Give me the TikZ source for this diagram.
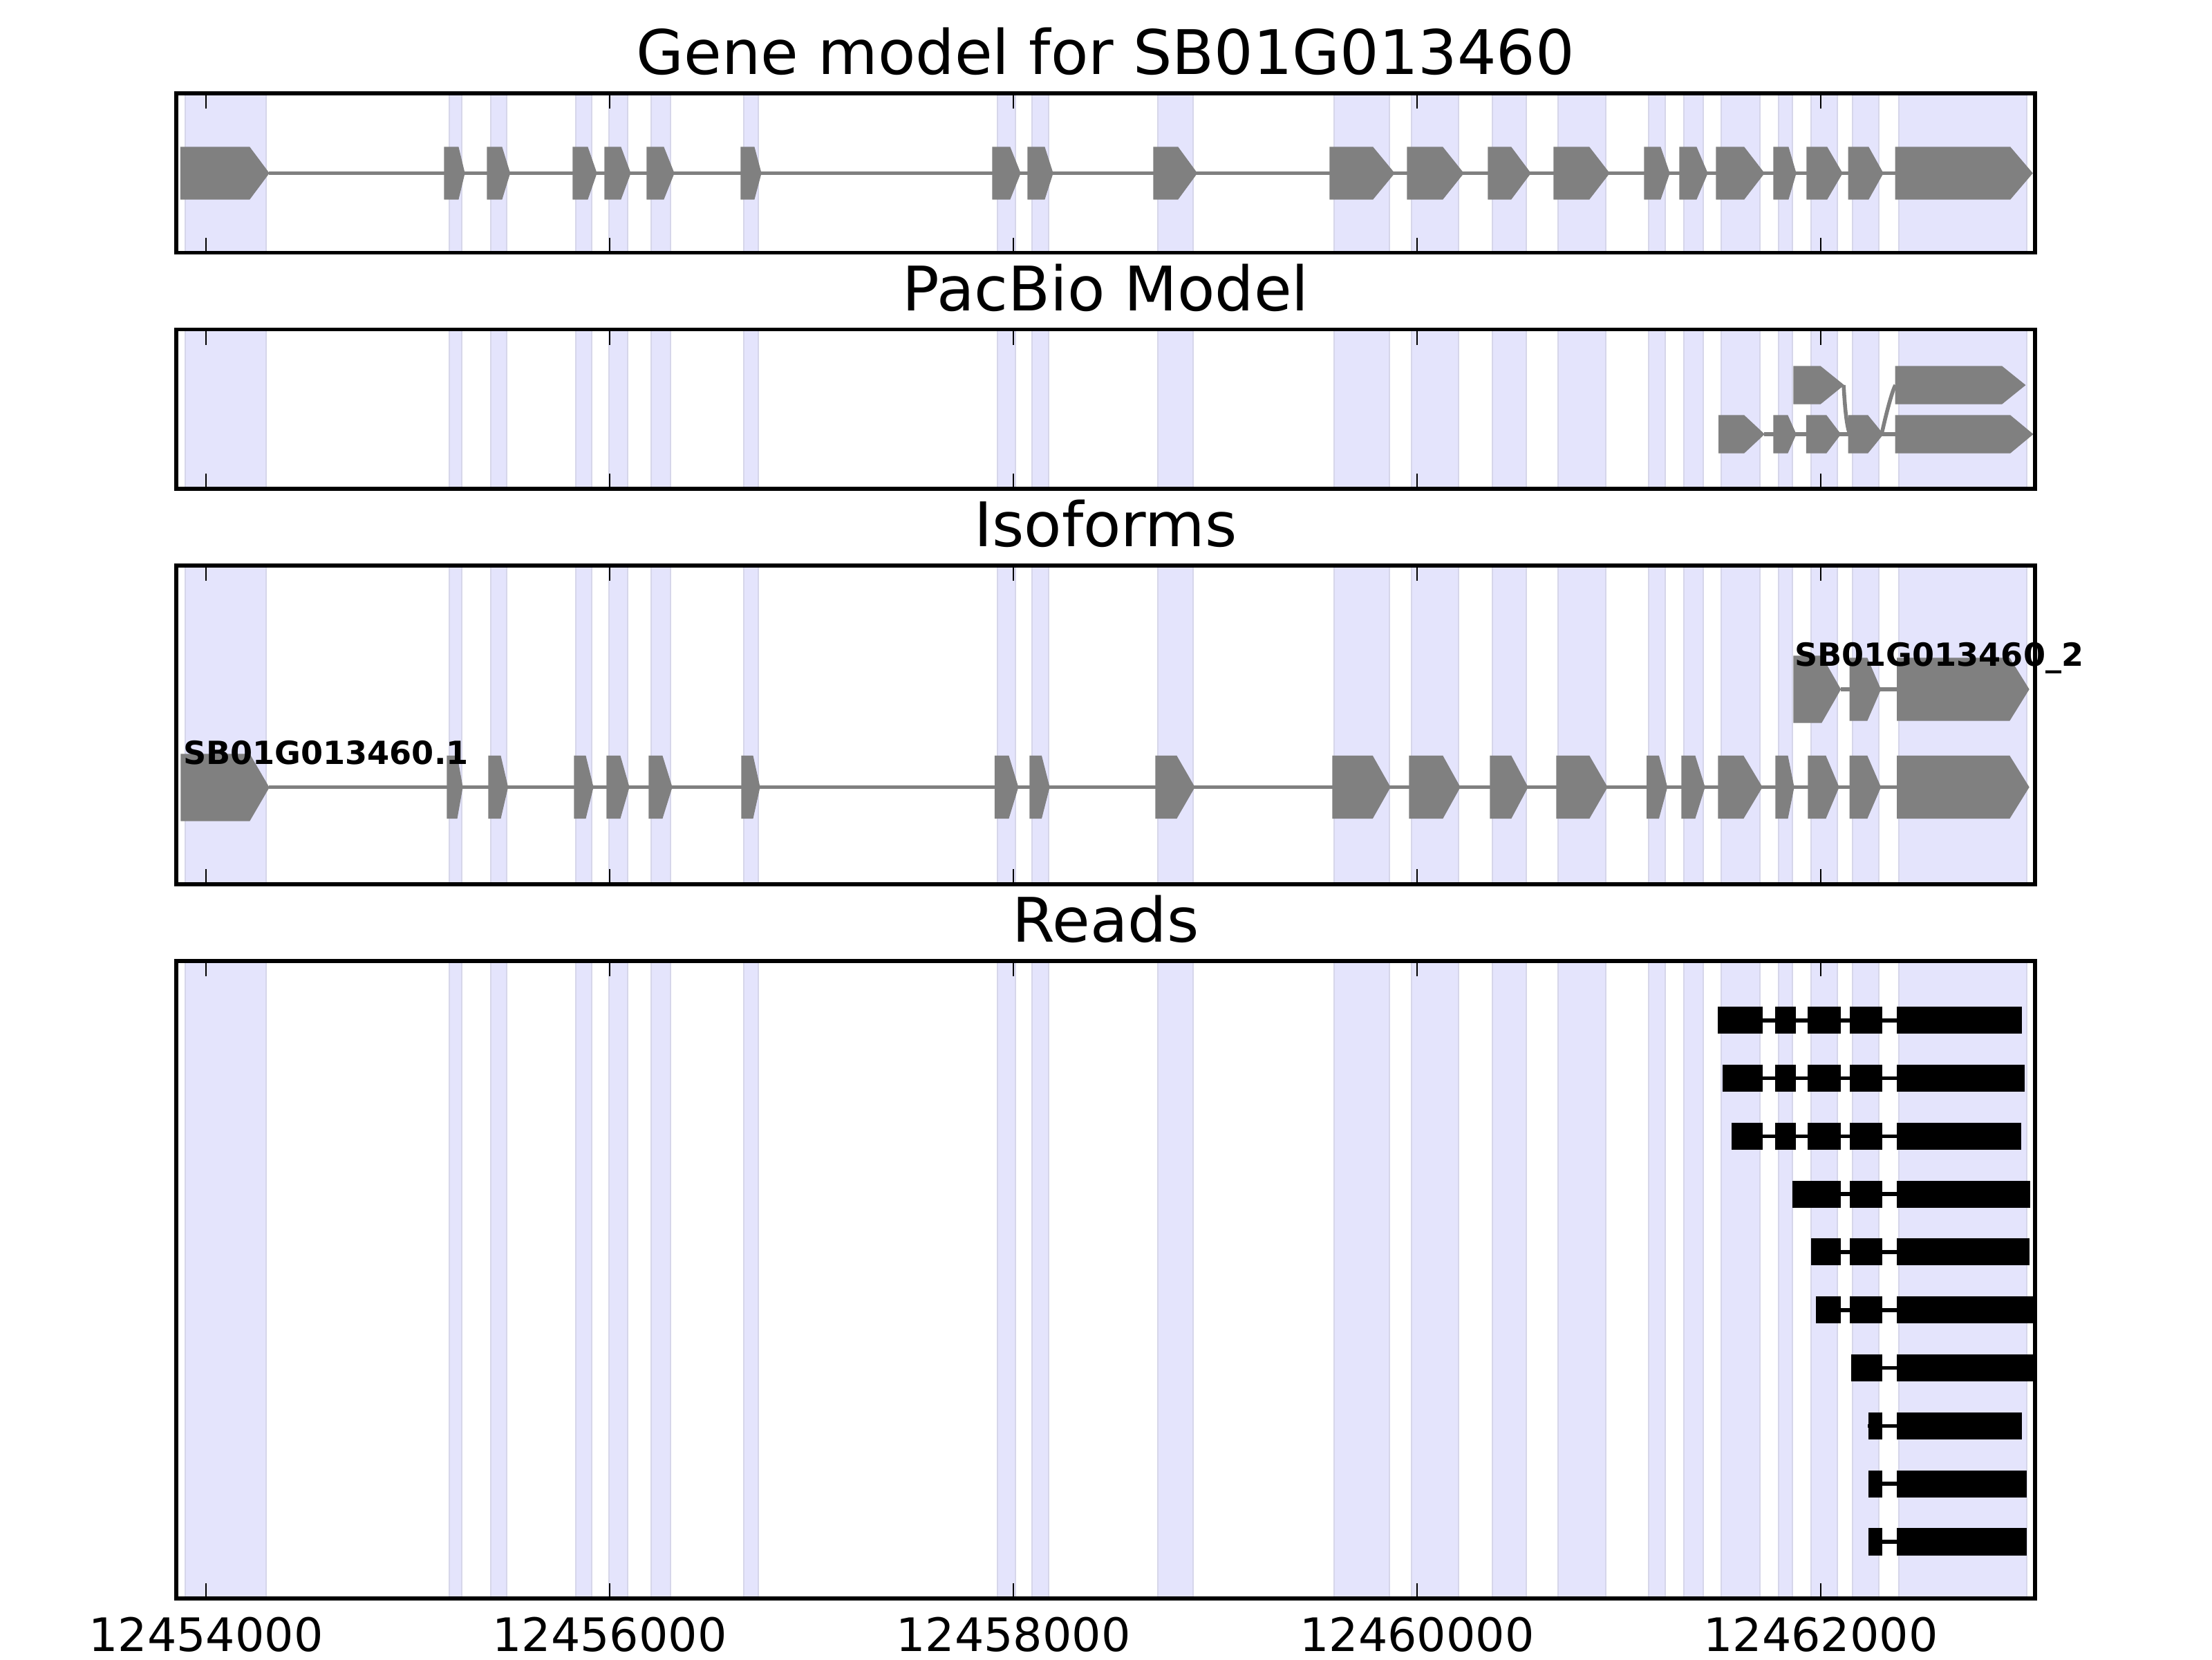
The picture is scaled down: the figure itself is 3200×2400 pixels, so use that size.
\documentclass[tikz,border=0pt]{standalone}
\usepackage{fontspec}
\setmainfont{DejaVu Sans}
\definecolor{bandfill}{RGB}{228,228,252}
\definecolor{bandedge}{RGB}{214,214,234}
\definecolor{exongray}{RGB}{128,128,128}
\tikzset{
  framebox/.style={draw=black, line width=1pt},
  tickmark/.style={draw=black, line width=0.5pt},
  bandrect/.style={fill=bandfill},
  bandline/.style={draw=bandedge, line width=0.5pt},
  exonshape/.style={fill=exongray, draw=exongray, line width=0.2pt},
  intron/.style={draw=exongray, line width=1pt},
  readbox/.style={fill=black, draw=black, line width=0.2pt},
  readline/.style={draw=black, line width=1pt},
  ptitle/.style={font=\fontsize{16}{19}\selectfont, inner sep=0pt, anchor=base},
  ticklabel/.style={font=\fontsize{12}{14}\selectfont, inner sep=0pt, anchor=base},
  isolabel/.style={font=\fontsize{8.3}{10}\selectfont\bfseries, inner sep=0pt, anchor=base west}
}
\newcommand\gexon[5]{\filldraw[exonshape] (#1,#4-#5) -- (#2,#4-#5) -- (#3,#4) -- (#2,#4+#5) -- (#1,#4+#5) -- cycle;}
\newcommand\readrow[4]{%
  \draw[readline] (#2,#1) -- (#3,#1);
  \foreach \ra/\rb in {#4} {\filldraw[readbox] (\ra,#1-19) rectangle (\rb,#1+19);}
}
\begin{document}
\begin{tikzpicture}[x=0.18pt, y=-0.18pt]
\useasboundingbox (0,0) rectangle (3200,2400);
\fill[white] (0,0) rectangle (3200,2400);

% shaded exon bands in every panel
\foreach \pt/\pb in {135/365.5, 476.5/707, 818/1279, 1390/2312} {
  \foreach \a/\b in {268/385, 650/668, 710/733, 833/856, 881/908, 942/970, 1076/1097,
                     1443/1469, 1493/1517, 1675/1726, 1930/2010, 2042/2110, 2159/2208,
                     2254/2323, 2385/2409, 2436/2464, 2490/2546, 2573/2593, 2620/2658,
                     2680/2718, 2747/2932} {
    \fill[bandrect] (\a,\pt) rectangle (\b,\pb);
    \draw[bandline] (\a,\pt) -- (\a,\pb) (\b,\pt) -- (\b,\pb);
  }
}

% ---------- Panel 1: gene model ----------
\draw[intron] (389,250.5) -- (2742,250.5);
\foreach \a/\b/\c in {261.5/361/389, 643/663/672, 705/726/737.5, 829/850/863, 875/898/912,
                      936/960/975, 1072/1091/1101, 1436/1461/1476, 1487/1511/1523,
                      1669/1704/1731.5, 1924/1986/2017, 2036/2087/2117, 2153/2186/2214,
                      2248/2299/2328, 2379/2402/2415, 2430/2454/2470, 2483/2523/2552,
                      2566/2587/2598, 2614/2643/2665, 2674/2703/2724, 2742/2908/2940}
  {\gexon{\a}{\b}{\c}{250.5}{37.5}}

% ---------- Panel 2: PacBio model ----------
\draw[intron] (2552,628) -- (2742,628);
\draw[intron] (2667,557) .. controls (2669,590) and (2671,615) .. (2676,628) -- (2722,628)
              .. controls (2727,605) and (2737,565) .. (2742,557);
\foreach \a/\b/\c in {2595/2633.5/2667, 2742/2896/2929.5}
  {\gexon{\a}{\b}{\c}{557}{27}}
\foreach \a/\b/\c in {2486.6/2523/2552, 2566/2586/2598, 2613.4/2642/2662.5,
                      2674/2702/2724, 2742/2908/2940.6}
  {\gexon{\a}{\b}{\c}{628}{27}}

% ---------- Panel 3: isoforms ----------
\draw[intron] (389,1138.5) -- (2744.6,1138.5);
\gexon{262}{361}{389}{1139}{48}
\foreach \a/\b/\c in {647/661/669, 707/724/734.5, 831/847/858, 878/897/910, 939/958/972,
                      1073/1089/1099, 1439.5/1459/1472.7, 1490/1506.5/1518, 1672/1702/1728,
                      1928/1985.5/2011, 2039/2087/2112, 2156/2186/2210, 2252/2299/2325,
                      2382.6/2399.5/2411.6, 2433/2452/2466, 2486/2522/2549, 2569/2586/2595,
                      2616/2641/2660, 2676/2701/2720.5, 2744.6/2907/2935}
  {\gexon{\a}{\b}{\c}{1138.5}{45}}
\draw[intron] (2662.5,997) -- (2744.6,997);
\gexon{2595}{2635}{2662.5}{997}{48}
\foreach \a/\b/\c in {2676/2701/2720.5, 2744.6/2907/2935}
  {\gexon{\a}{\b}{\c}{997}{45}}
\node[isolabel] (iso1) at (264,1105) {SB01G013460.1};
\node[isolabel] (iso2) at (2595,963) {SB01G013460\_2};

% ---------- Panel 4: reads ----------
\readrow{1475.7}{2486}{2924}{2486/2549.6, 2569/2597, 2616/2662, 2676/2722, 2744/2924}
\readrow{1559.5}{2492}{2928}{2493/2549.6, 2569/2597, 2616/2662, 2676/2722, 2744/2928}
\readrow{1643.3}{2506}{2923}{2506/2549.6, 2569/2597, 2616/2662, 2676/2722, 2744/2923}
\readrow{1727.1}{2594}{2936}{2594/2662, 2676/2722, 2744/2936}
\readrow{1810.9}{2620}{2935}{2621/2662, 2676/2722, 2744/2935}
\readrow{1894.7}{2627}{2943}{2628/2662, 2676/2722, 2744/2943}
\readrow{1978.5}{2678}{2941}{2678/2722, 2744/2941}
\readrow{2062.3}{2702}{2924}{2703/2722, 2744/2924}
\readrow{2146.1}{2703}{2931}{2703/2722, 2744/2931}
\readrow{2229.9}{2703}{2931}{2703/2722, 2744/2931}

% ---------- frames and ticks ----------
\foreach \pt/\pb in {135/365.5, 476.5/707, 818/1279, 1390/2312} {
  \draw[framebox] (255,\pt) rectangle (2944,\pb);
  \foreach \x in {298, 882, 1466, 2050, 2634} {
    \draw[tickmark] (\x,\pt) -- ++(0,22);
    \draw[tickmark] (\x,\pb) -- ++(0,-22);
  }
}

% ---------- titles ----------
\node[ptitle] (title1) at (1599.5,107.5) {Gene model for SB01G013460};
\node[ptitle] (title2) at (1599.5,449) {PacBio Model};
\node[ptitle] (title3) at (1599.5,790.5) {Isoforms};
\node[ptitle] (title4) at (1599.5,1362.5) {Reads};

% ---------- tick labels ----------
\node[ticklabel] (xl1) at (298,2388) {12454000};
\node[ticklabel] (xl2) at (882,2388) {12456000};
\node[ticklabel] (xl3) at (1466,2388) {12458000};
\node[ticklabel] (xl4) at (2050,2388) {12460000};
\node[ticklabel] (xl5) at (2634,2388) {12462000};
\end{tikzpicture}
\end{document}
